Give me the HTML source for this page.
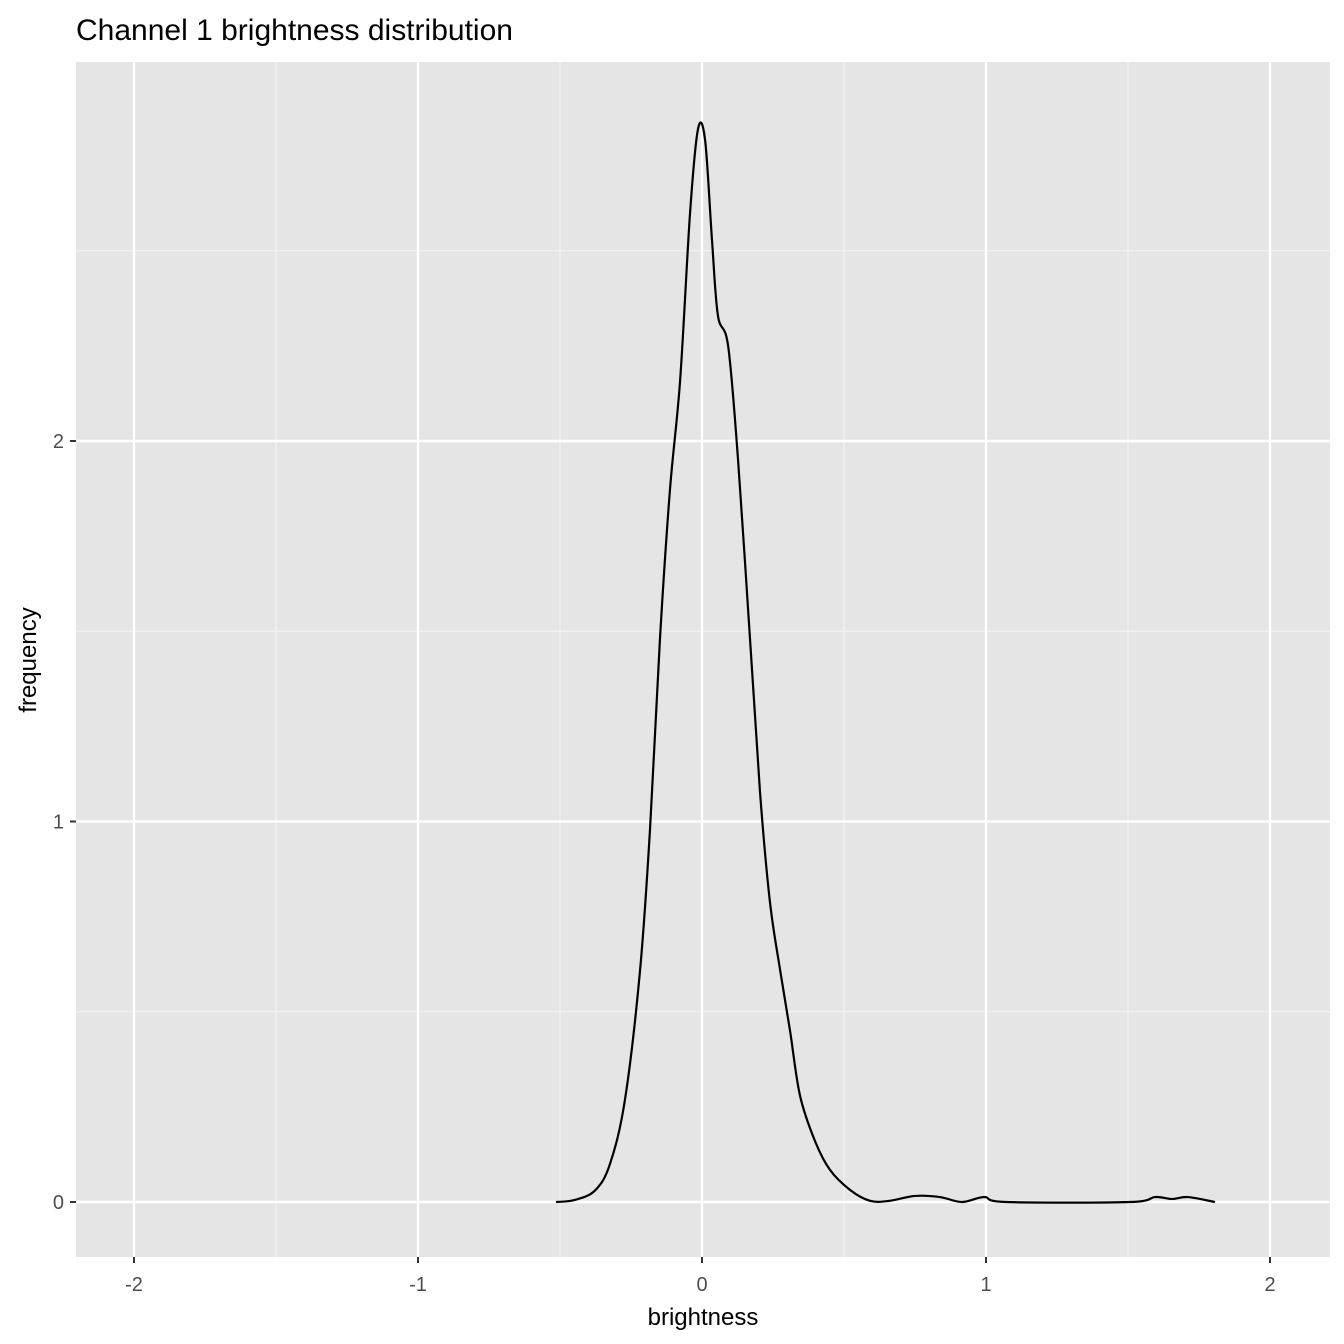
<!DOCTYPE html>
<html><head><meta charset="utf-8"><style>
body{margin:0;background:#fff;}
svg{display:block;font-family:"Liberation Sans",Arial,sans-serif;}
</style></head><body>
<svg id="chart" width="1344" height="1344">
<text x="76" y="40" font-size="30" fill="#000">Channel 1 brightness distribution</text>
<rect x="76" y="62" width="1254" height="1195" fill="#e5e5e5"/>
<g id="grid"></g>
<g id="ticks"></g>
<path id="curve" fill="none" stroke="#000" stroke-width="2.2"/>
<text x="703" y="1325" font-size="24" text-anchor="middle" fill="#000">brightness</text>
<text transform="translate(36,660) rotate(-90)" font-size="24" text-anchor="middle" fill="#000">frequency</text>
</svg>
<script>
const xTicks=[-2,-1,0,1,2];
const yTicks=[0,1,2];
const xMinor=[-1.5,-0.5,0.5,1.5];
const yMinor=[0.5,1.5,2.5];
const densX=[-0.514,-0.45,-0.377,-0.324,-0.271,-0.218,-0.183,-0.148,-0.113,-0.077,-0.042,-0.014,0.011,0.035,0.056,0.092,0.127,0.169,0.204,0.239,0.275,0.31,0.345,0.398,0.451,0.521,0.592,0.66,0.75,0.838,0.915,0.994,1.07,1.507,1.595,1.655,1.711,1.806];
const densY=[0,0.005,0.03,0.10,0.27,0.61,0.98,1.48,1.87,2.16,2.60,2.82,2.79,2.53,2.33,2.25,1.95,1.48,1.08,0.79,0.61,0.45,0.28,0.16,0.084,0.032,0.003,0.003,0.016,0.013,0,0.013,0,0,0.013,0.008,0.013,0];
const sx=v=>702+v*284;
const sy=v=>1202-v*380.5;
const NS="http://www.w3.org/2000/svg";
const grid=document.getElementById('grid'),ticks=document.getElementById('ticks');
function line(p,x1,y1,x2,y2,stroke,w,name){const l=document.createElementNS(NS,'line');
l.setAttribute('x1',x1);l.setAttribute('y1',y1);l.setAttribute('x2',x2);l.setAttribute('y2',y2);
l.setAttribute('stroke',stroke);l.setAttribute('stroke-width',w);


p.appendChild(l);}
function text(x,y,s,anchor,name){const t=document.createElementNS(NS,'text');
t.setAttribute('x',x);t.setAttribute('y',y);t.setAttribute('font-size','20');t.setAttribute('fill','#4d4d4d');t.setAttribute('text-anchor',anchor);t.textContent=s;


ticks.appendChild(t);}
xMinor.forEach(v=>line(grid,sx(v),62,sx(v),1257,'#f2f2f2',1.2,'x-minor-gridline'));
yMinor.forEach(v=>line(grid,76,sy(v),1330,sy(v),'#f2f2f2',1.2,'y-minor-gridline'));
xTicks.forEach(v=>{line(grid,sx(v),62,sx(v),1257,'#fff',2.4,'x-gridline');
line(ticks,sx(v),1257,sx(v),1263,'#333',2,'x-tick');text(sx(v),1291,String(v),'middle','x-tick-label');});
yTicks.forEach(v=>{line(grid,76,sy(v),1330,sy(v),'#fff',2.4,'y-gridline');
line(ticks,70,sy(v),76,sy(v),'#333',2,'y-tick');text(64,sy(v)+7,String(v),'end','y-tick-label');});
const pts=densX.map((x,i)=>[sx(x),sy(densY[i])]);
let d='M'+pts[0][0]+','+pts[0][1];
for(let i=0;i<pts.length-1;i++){const p0=pts[Math.max(0,i-1)],p1=pts[i],p2=pts[i+1],p3=pts[Math.min(pts.length-1,i+2)];
const c1=[p1[0]+(p2[0]-p0[0])/6,p1[1]+(p2[1]-p0[1])/6],c2=[p2[0]-(p3[0]-p1[0])/6,p2[1]-(p3[1]-p1[1])/6];
d+=' C'+c1+' '+c2+' '+p2;}
document.getElementById('curve').setAttribute('d',d);
</script>
</body></html>
